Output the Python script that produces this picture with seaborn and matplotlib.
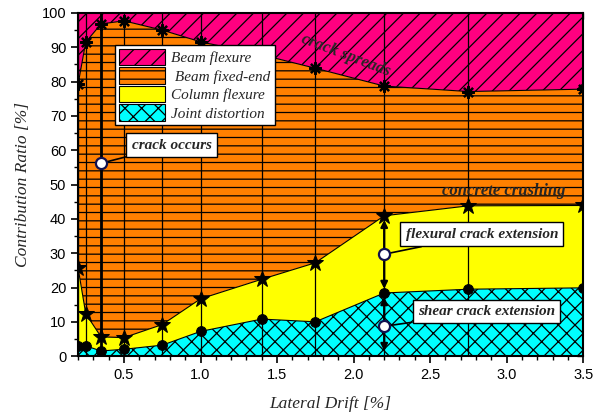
import numpy as np
import matplotlib
matplotlib.use("Agg")
import matplotlib.pyplot as plt
from matplotlib.patches import Patch
from matplotlib.ticker import MultipleLocator
import seaborn as sns

# Lateral drift steps [%]
drift = [0.2, 0.25, 0.35, 0.5, 0.75, 1.0, 1.4, 1.75, 2.2, 2.75, 3.5]
# Cumulative contribution ratios [%] (upper edge of each stacked component)
joint_top = [3.0, 3.0, 1.5, 2.0, 3.2, 7.2, 10.8, 10.0, 18.4, 19.5, 19.9]
column_top = [25.7, 12.4, 5.6, 5.4, 9.2, 16.7, 22.4, 27.2, 40.9, 43.8, 43.9]
fixed_end_top = [79.2, 91.5, 96.8, 97.7, 95.0, 91.6, 87.8, 83.9, 78.7, 77.1, 77.8]
total = [100.0] * len(drift)

labels = ["Beam flexure", " Beam fixed-end", "Column flexure", "Joint distortion"]
colors = ["#FF0080", "#FF8000", "#FFFF00", "#00FFFF"]
hatches = ["//", "--", "", "xx"]

# Event markers
crack_drift, crack_ratio = 0.35, 56.2
ext_drift, flex_ratio, shear_ratio = 2.2, 29.7, 8.7

sns.set_theme(style="ticks")
plt.rcParams["font.family"] = ["Liberation Sans", "DejaVu Sans"]
plt.rcParams["hatch.linewidth"] = 0.9
plt.rcParams["hatch.color"] = "black"

fig = plt.figure(figsize=(6.1, 4.18), dpi=100)
ax = fig.add_axes([0.128, 0.148, 0.828, 0.821])

x = np.array(drift)
zero = np.zeros_like(x)
layers = [(np.array(fixed_end_top), np.array(total)),
          (np.array(column_top), np.array(fixed_end_top)),
          (np.array(joint_top), np.array(column_top)),
          (zero, np.array(joint_top))]
for (lo, hi), c, h in zip(layers, colors, hatches):
    ax.fill_between(x, lo, hi, facecolor=c, hatch=h, edgecolor="black",
                    linewidth=0, zorder=1)

# vertical guides at each drift step
ax.vlines(drift, 0, 100, colors="black", linewidth=0.9, zorder=2)
ax.vlines([crack_drift], 0, 100, colors="black", linewidth=2.0, zorder=2)

# component boundaries
sns.lineplot(x=drift, y=fixed_end_top, ax=ax, color="black", linewidth=0.8,
             marker=(8, 2, 0), markersize=9, markeredgewidth=1.6,
             markeredgecolor="black", zorder=4)
sns.lineplot(x=drift, y=column_top, ax=ax, color="black", linewidth=0.8,
             marker="*", markersize=12, markeredgecolor="black",
             markerfacecolor="black", zorder=4)
sns.lineplot(x=drift, y=joint_top, ax=ax, color="black", linewidth=0.8,
             marker="o", markersize=7, markeredgecolor="black",
             markerfacecolor="black", zorder=4)

# arrows marking crack extension ranges at 2.2 %
arrow = dict(arrowstyle="-|>", color="black", lw=1.6, mutation_scale=10,
             shrinkA=4, shrinkB=3)
ax.annotate("", xy=(ext_drift, column_top[8]), xytext=(ext_drift, flex_ratio), arrowprops=arrow, zorder=5)
ax.annotate("", xy=(ext_drift, joint_top[8]), xytext=(ext_drift, flex_ratio), arrowprops=arrow, zorder=5)
ax.annotate("", xy=(ext_drift, joint_top[8]), xytext=(ext_drift, shear_ratio), arrowprops=arrow, zorder=5)
ax.annotate("", xy=(ext_drift, 0.3), xytext=(ext_drift, shear_ratio), arrowprops=arrow, zorder=5)

box = dict(boxstyle="square,pad=0.35", facecolor="white", edgecolor="black", linewidth=1)
tfont = dict(family="Liberation Serif", style="italic", weight="bold", fontsize=11)
line = dict(arrowstyle="-", color="black", lw=1.2, shrinkA=0, shrinkB=0)
ax.annotate("crack occurs", xy=(crack_drift, crack_ratio), xytext=(0.55, 61.5),
            bbox=box, arrowprops=line, va="center", ha="left", zorder=6, **tfont)
ax.annotate("flexural crack extension", xy=(ext_drift, flex_ratio), xytext=(2.34, 35.5),
            bbox=box, arrowprops=line, va="center", ha="left", zorder=6, **tfont)
ax.annotate("shear crack extension", xy=(ext_drift, shear_ratio), xytext=(2.42, 13.0),
            bbox=box, arrowprops=line, va="center", ha="left", zorder=6, **tfont)
for xv, yv in [(crack_drift, crack_ratio), (ext_drift, flex_ratio), (ext_drift, shear_ratio)]:
    ax.plot([xv], [yv], marker="o", markersize=8, markerfacecolor="white",
            markeredgecolor="#101050", markeredgewidth=1.6, zorder=7)

ax.text(2.98, 48.0, "concrete crushing", ha="center", va="center", zorder=6,
        family="Liberation Serif", style="italic", weight="bold", fontsize=12)
ax.text(1.95, 87.5, "crack spreads", ha="center", va="center", rotation=-21, zorder=6,
        family="Liberation Serif", style="italic", weight="bold", fontsize=12)

handles = [Patch(facecolor=c, hatch=h, edgecolor="black", linewidth=0.8)
           for c, h in zip(colors, hatches)]
leg = ax.legend(handles, labels, loc="upper left", bbox_to_anchor=(0.073, 0.907),
                borderaxespad=0, frameon=True, fancybox=False, framealpha=1,
                edgecolor="black", borderpad=0.25, labelspacing=0.12,
                handlelength=3.0, handleheight=1.3, handletextpad=0.45,
                prop=dict(family="Liberation Serif", style="italic", size=11))
leg.get_frame().set_linewidth(1.0)
leg.set_zorder(8)

ax.set_xlim(0.2, 3.5)
ax.set_ylim(0, 100)
ax.xaxis.set_major_locator(MultipleLocator(0.5))
ax.xaxis.set_minor_locator(MultipleLocator(0.1))
ax.yaxis.set_major_locator(MultipleLocator(10))
ax.yaxis.set_minor_locator(MultipleLocator(5))
ax.tick_params(which="both", direction="out", colors="black", labelsize=10.5,
               top=False, right=False)
ax.tick_params(which="major", length=5, width=1.2)
ax.tick_params(which="minor", length=3, width=1.0)
sec_x = ax.secondary_xaxis("top")
sec_x.xaxis.set_major_locator(MultipleLocator(0.5))
sec_x.xaxis.set_minor_locator(MultipleLocator(0.1))
sec_x.tick_params(which="both", direction="in", labeltop=False, length=4, width=1.0)
sec_y = ax.secondary_yaxis("right")
sec_y.yaxis.set_major_locator(MultipleLocator(10))
sec_y.yaxis.set_minor_locator(MultipleLocator(5))
sec_y.tick_params(which="both", direction="in", labelright=False, length=4, width=1.0)
for s in ax.spines.values():
    s.set_linewidth(1.5)
    s.set_color("black")
    s.set_zorder(9)

ax.set_xlabel("Lateral Drift [%]", family="Liberation Serif", style="italic", fontsize=12.5, labelpad=10)
ax.set_ylabel("Contribution Ratio [%]", family="Liberation Serif", style="italic", fontsize=12.5, labelpad=8)

fig.savefig("out.png", dpi=100)
